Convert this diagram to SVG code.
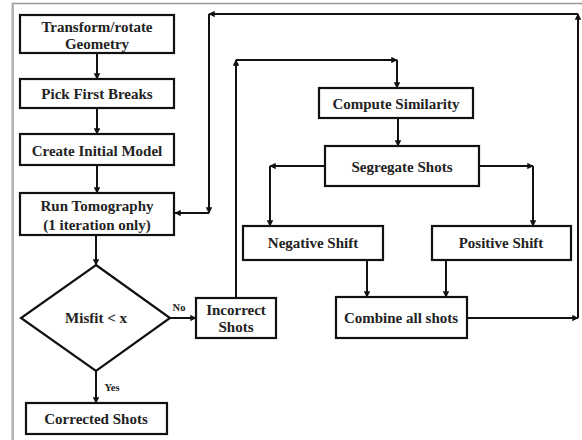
<svg xmlns="http://www.w3.org/2000/svg" width="582" height="440" viewBox="0 0 582 440">
<defs>
<marker id="ah" viewBox="0 0 10 10" refX="9" refY="5" markerWidth="3.2" markerHeight="3.2" orient="auto" markerUnits="strokeWidth">
<path d="M0,0 L10,5 L0,10 z" fill="#111"/>
</marker>
<style>
.box{fill:#fff;stroke:#111;stroke-width:2.2}
.t{font-family:"Liberation Serif","Times New Roman",serif;font-weight:bold;font-size:15px;fill:#222;text-anchor:middle}
.s{font-family:"Liberation Serif","Times New Roman",serif;font-weight:bold;font-size:10.5px;fill:#222;text-anchor:middle}
.c line{stroke:#111;stroke-width:2;marker-end:url(#ah)}
.frame{stroke:#9a9a9a;stroke-width:1.5;fill:none}
</style>
</defs>
<rect width="582" height="440" fill="#fff"/>
<g id="frame">
<path class="frame" d="M13,440 V3.5 H582"/>
<path d="M11.5,440 V2" stroke="#d4d4d4" stroke-width="1" fill="none"/>
</g>
<g class="c" id="connectors">
<line x1="97" y1="53" x2="97" y2="79"/>
<line x1="97" y1="108" x2="97" y2="134"/>
<line x1="97" y1="165" x2="97" y2="193"/>
<line x1="96" y1="235" x2="96" y2="265"/>
<line x1="170" y1="318" x2="196" y2="318"/>
<line x1="96" y1="371" x2="96" y2="403"/>
<line x1="467" y1="318" x2="578" y2="318"/>
<line x1="578" y1="318" x2="578" y2="14"/>
<line x1="578" y1="14" x2="209" y2="14"/>
<line x1="209" y1="14" x2="209" y2="213"/>
<line x1="209" y1="213" x2="175" y2="213"/>
<line x1="236" y1="298" x2="236" y2="60"/>
<line x1="236" y1="60" x2="397" y2="60"/>
<line x1="397" y1="60" x2="397" y2="88"/>
<line x1="398" y1="118" x2="398" y2="146"/>
<line x1="325" y1="166" x2="270" y2="166"/>
<line x1="270" y1="166" x2="270" y2="226"/>
<line x1="479" y1="166" x2="533" y2="166"/>
<line x1="533" y1="166" x2="533" y2="226"/>
<line x1="367" y1="260" x2="367" y2="297"/>
<line x1="446" y1="260" x2="446" y2="297"/>
</g>
<g id="n1"><rect class="box" x="20" y="15" width="154" height="38"/><text class="t" x="97" y="32">Transform/rotate</text><text class="t" x="97" y="49">Geometry</text></g>
<g id="n2"><rect class="box" x="20" y="79" width="154" height="29"/><text class="t" x="97" y="99">Pick First Breaks</text></g>
<g id="n3"><rect class="box" x="20" y="134" width="154" height="31"/><text class="t" x="97" y="156">Create Initial Model</text></g>
<g id="n4"><rect class="box" x="20" y="193" width="154" height="42"/><text class="t" x="97" y="211">Run Tomography</text><text class="t" x="97" y="230">(1 iteration only)</text></g>
<g id="n5"><polygon class="box" points="96,265 170,318 96,371 21,318"/><text class="t" x="96" y="323">Misfit &lt; x</text></g>
<g id="n6"><rect class="box" x="196" y="298" width="80" height="40"/><text class="t" x="236" y="315">Incorrect</text><text class="t" x="236" y="332">Shots</text></g>
<g id="n7"><rect class="box" x="26" y="403" width="141" height="31"/><text class="t" x="96" y="424">Corrected Shots</text></g>
<g id="n8"><rect class="box" x="319" y="88" width="154" height="30"/><text class="t" x="396" y="109">Compute Similarity</text></g>
<g id="n9"><rect class="box" x="325" y="146" width="154" height="40"/><text class="t" x="402" y="172">Segregate Shots</text></g>
<g id="n10"><rect class="box" x="243" y="226" width="140" height="34"/><text class="t" x="313" y="248">Negative Shift</text></g>
<g id="n11"><rect class="box" x="432" y="226" width="139" height="34"/><text class="t" x="501" y="248">Positive Shift</text></g>
<g id="n12"><rect class="box" x="336" y="297" width="131" height="41"/><text class="t" x="401" y="323">Combine all shots</text></g>
<g id="labels"><text class="s" x="179" y="311">No</text><text class="s" x="112" y="391">Yes</text></g>
</svg>
